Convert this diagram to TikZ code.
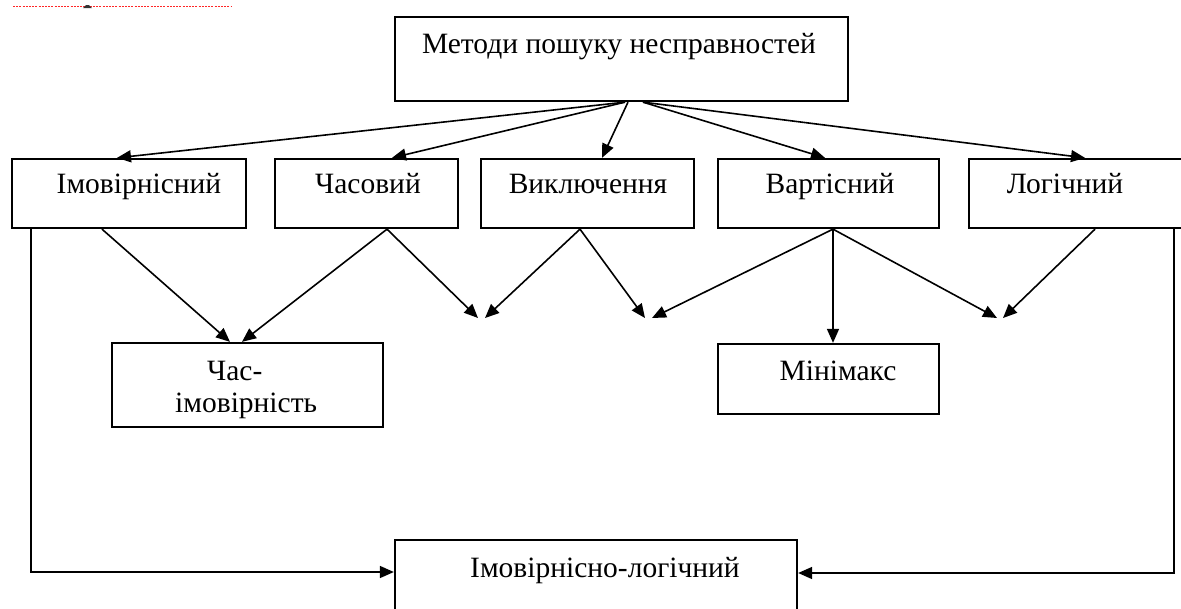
\documentclass[tikz,border=0pt]{standalone}
\usepackage{fontspec}
\setmainfont{Liberation Serif}
\usetikzlibrary{arrows.meta}
\begin{document}
\begin{tikzpicture}[x=1pt,y=-1pt,
  box/.style={draw=black,line width=2.3pt,minimum width=#1,inner sep=0pt,anchor=center},
  lbl/.style={font=\fontsize{29.5}{32}\selectfont,inner sep=0pt,anchor=base},
  arr/.style={draw=black,line width=1.6pt,-{Triangle[length=14pt,width=12pt]}},
  ln/.style={draw=black,line width=1.6pt}]
\useasboundingbox (0,0) rectangle (1181,608);
\clip (0,0) rectangle (1181,608);
\fill[white] (0,0) rectangle (1181,608);
% artifact at top left
\draw[red!85,line width=1pt,dash pattern=on 2pt off 1.2pt] (13,6.5) -- (232,6.5);
\fill[black!80] (83,8) -- (86,5) -- (89,5) -- (92,8) -- cycle;
% boxes
\node[box=453pt,minimum height=84pt] (top) at (621.5,59) {};
\node[lbl] (ttop) at (619,53) {Методи пошуку несправностей};
\node[box=234pt,minimum height=69pt] (b1) at (129,193.5) {};
\node[lbl] (tb1) at (139,193) {Імовірнісний};
\node[box=183pt,minimum height=69pt] (b2) at (366.5,193.5) {};
\node[lbl] (tb2) at (368,193) {Часовий};
\node[box=213pt,minimum height=69pt] (b3) at (587.5,193.5) {};
\node[lbl] (tb3) at (588,193) {Виключення};
\node[box=221pt,minimum height=69pt] (b4) at (828.5,193.5) {};
\node[lbl] (tb4) at (830,193) {Вартісний};
\node[box=214pt,minimum height=69pt] (b5) at (1076,193.5) {};
\node[lbl] (tb5) at (1065,193) {Логічний};
\node[box=271pt,minimum height=84pt] (c) at (247.5,385) {};
\node[lbl,anchor=base west] (tc1) at (207,380) {Час-};
\node[lbl,anchor=base west] (tc2) at (175,412) {імовірність};
\node[box=221pt,minimum height=70pt] (m) at (828.5,379) {};
\node[lbl] (tm) at (838,380) {Мінімакс};
\node[box=402pt,minimum height=90pt] (il) at (596,585) {};
\node[lbl] (til) at (605,577) {Імовірнісно-логічний};
% free arrow ends
\coordinate (p1) at (481.5,318);
\coordinate (p2) at (648,318);
\coordinate (p3) at (1000,318);
% top fan
\draw[arr] ([xshift=3.5pt]top.south) -- ([xshift=-12pt]b1.north);
\draw[arr] ([xshift=3.5pt]top.south) -- ([xshift=25.5pt]b2.north);
\draw[arr] ([xshift=6.5pt]top.south) -- ([xshift=14.5pt]b3.north);
\draw[arr] ([xshift=21.5pt]top.south) -- ([xshift=-3.5pt]b4.north);
\draw[arr] ([xshift=21.5pt]top.south) -- ([xshift=9pt]b5.north);
% second level
\draw[arr] ([xshift=-27pt]b1.south) -- ([xshift=-17.5pt]c.north);
\draw[arr] ([xshift=20.5pt]b2.south) -- ([xshift=-5.5pt]c.north);
\draw[arr] ([xshift=20.5pt]b2.south) -- ([xshift=-3.5pt]p1);
\draw[arr] ([xshift=-7.5pt]b3.south) -- ([xshift=3.5pt]p1);
\draw[arr] ([xshift=-7.5pt]b3.south) -- ([xshift=-3pt]p2);
\draw[arr] ([xshift=4.5pt]b4.south) -- ([xshift=4pt]p2);
\draw[arr] ([xshift=4.5pt]b4.south) -- ([xshift=4.5pt]m.north);
\draw[arr] ([xshift=4.5pt]b4.south) -- ([xshift=-3pt]p3);
\draw[arr] ([xshift=19pt]b5.south) -- ([xshift=3pt]p3);
% side connectors
\draw[arr] ([xshift=-98pt]b1.south) |- ([yshift=13pt]il.west);
\draw[arr] ([xshift=98pt]b5.south) |- ([yshift=12pt]il.east);
\end{tikzpicture}
\end{document}
